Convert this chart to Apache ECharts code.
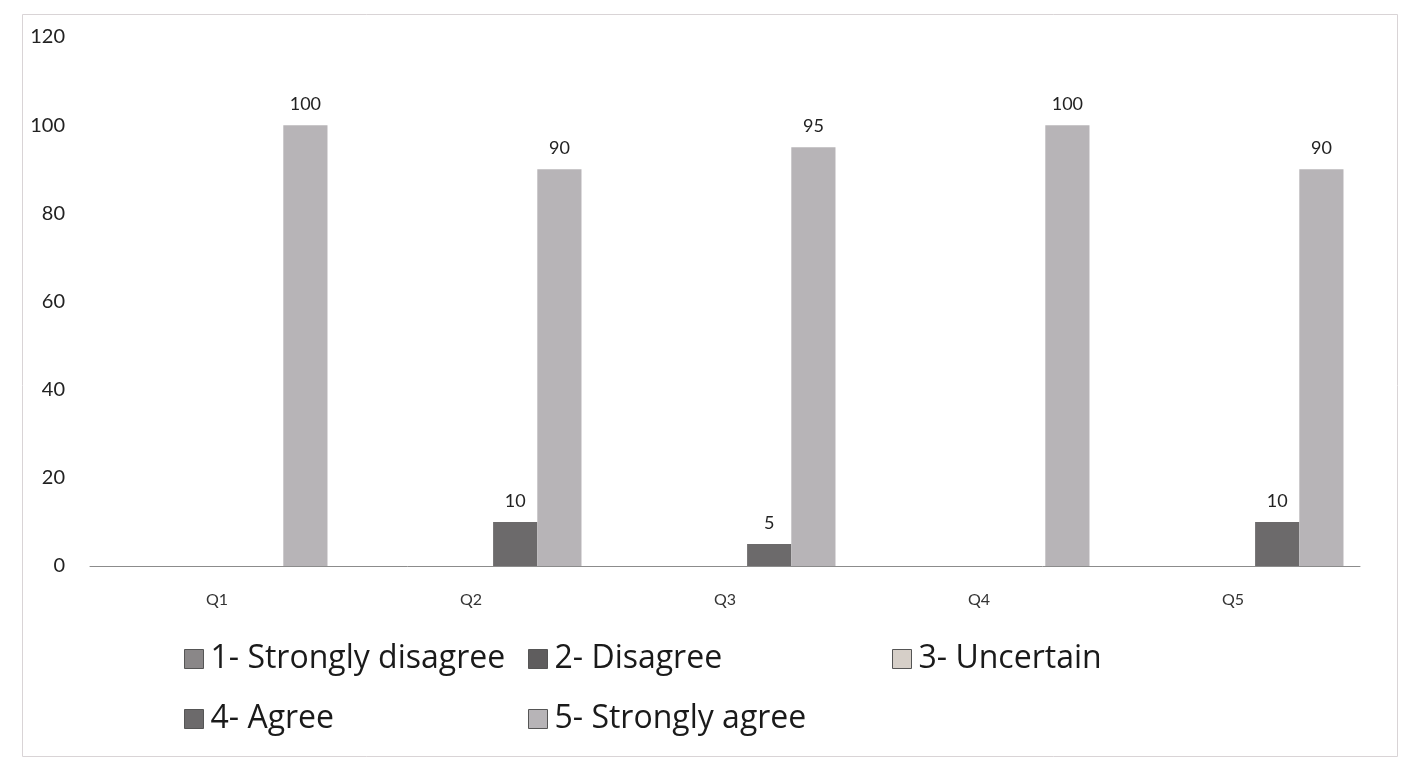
<!DOCTYPE html>
<html>
<head>
<meta charset="utf-8">
<script src="https://cdn.jsdelivr.net/npm/echarts@6/dist/echarts.min.js"></script>
<style>
  html, body { margin: 0; padding: 0; background: #ffffff; }
  #chart { width: 1405px; height: 771px; }
</style>
</head>
<body>
<div id="chart"></div>
<script>
// Survey responses per question (percent)
const categories = ['Q1', 'Q2', 'Q3', 'Q4', 'Q5'];
const seriesNames = ['1- Strongly disagree', '2- Disagree', '3- Uncertain', '4- Agree', '5- Strongly agree'];
const stronglyDisagree = [0, 0, 0, 0, 0];
const disagree = [0, 0, 0, 0, 0];
const uncertain = [0, 0, 0, 0, 0];
const agree = [0, 10, 5, 0, 10];
const stronglyAgree = [100, 90, 95, 100, 90];
const yTicks = [0, 20, 40, 60, 80, 100, 120];

const seriesData = [stronglyDisagree, disagree, uncertain, agree, stronglyAgree];
const colors = ['#8a8788', '#5f5d5e', '#d6cfc8', '#6c6a6b', '#b7b4b7'];

const fontFamily = 'Lato, "Open Sans", sans-serif';
const legendFont = '"Open Sans", Lato, sans-serif';

const chart = echarts.init(document.getElementById('chart'), null, { renderer: 'canvas' });

const series = seriesData.map((data, i) => ({
  name: seriesNames[i],
  type: 'bar',
  data: data,
  barGap: '0%',
  barCategoryGap: '13%',
  itemStyle: { color: colors[i], borderWidth: 0 },
  label: {
    show: true,
    position: 'top',
    distance: 12,
    color: '#222',
    fontSize: 18,
    fontFamily: fontFamily,
    formatter: p => (p.value ? String(p.value) : '')
  },
  emphasis: { disabled: true }
}));

const legendBase = {
  orient: 'vertical',
  itemWidth: 19,
  itemHeight: 19,
  itemGap: 28,
  icon: 'rect',
  itemStyle: { borderWidth: 1, borderColor: '#555' },
  textStyle: { fontSize: 32, color: '#1a1a1a', fontFamily: legendFont, padding: [0, 0, 0, 2] }
};

chart.setOption({
  animation: false,
  backgroundColor: '#ffffff',
  color: colors,
  grid: { left: 90, right: 45, top: 37, bottom: 205, containLabel: false },
  xAxis: {
    type: 'category',
    data: categories,
    axisLine: { lineStyle: { color: '#8c8c8c', width: 1 } },
    axisTick: { show: false },
    axisLabel: { fontSize: 16, color: '#333', margin: 26, fontFamily: fontFamily }
  },
  yAxis: {
    type: 'value',
    min: yTicks[0],
    max: yTicks[yTicks.length - 1],
    interval: yTicks[1] - yTicks[0],
    axisLine: { show: false },
    axisTick: { show: false },
    splitLine: { show: false },
    axisLabel: { fontSize: 20, color: '#222', margin: 25, fontFamily: fontFamily }
  },
  legend: [
    Object.assign({}, legendBase, { left: 179, top: 638, data: [seriesNames[0], seriesNames[3]] }),
    Object.assign({}, legendBase, { left: 523, top: 638, data: [seriesNames[1], seriesNames[4]] }),
    Object.assign({}, legendBase, { left: 887, top: 638, data: [seriesNames[2]] })
  ],
  graphic: [{
    type: 'rect',
    left: 20,
    top: 12,
    shape: { width: 1375, height: 742 },
    style: { fill: 'none', stroke: '#d9d4d6', lineWidth: 1 },
    silent: true
  }],
  series: series
});
</script>
</body>
</html>
